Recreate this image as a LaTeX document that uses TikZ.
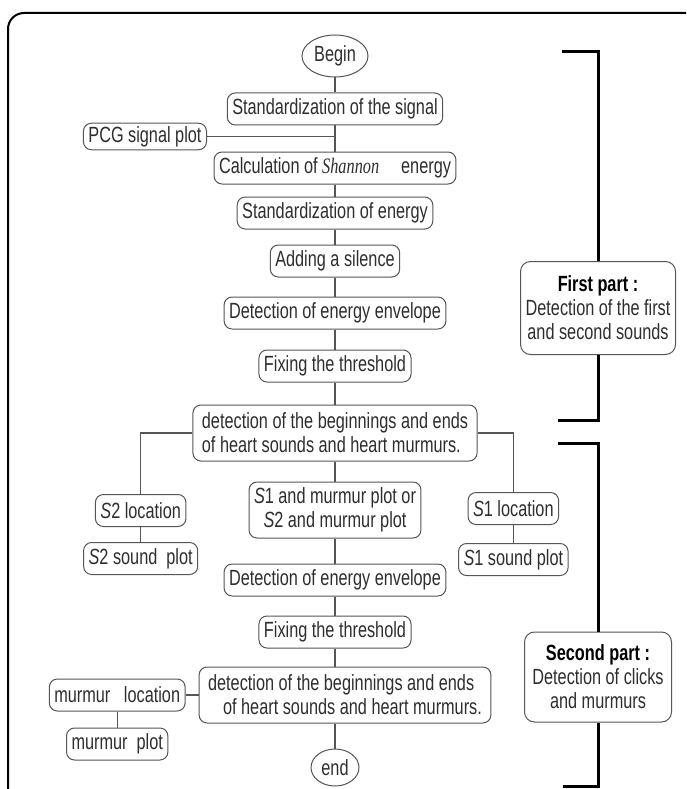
\documentclass[tikz,border=0pt]{standalone}
\usepackage{fontspec}
\setmainfont{Liberation Sans}[FakeStretch=0.74]
\newfontfamily\shannonfont{Liberation Serif}[FakeStretch=0.74]
\usepackage{tikz}
\usetikzlibrary{positioning, shapes.geometric}
\definecolor{boxgray}{HTML}{555555}
\definecolor{txtgray}{HTML}{2E2E2E}

\begin{document}
\begin{tikzpicture}[x=1pt, y=1pt,
    stepbox/.style={draw=boxgray, line width=1pt, rounded corners=8pt, fill=white, text=txtgray, font=\fontsize{22}{24}\selectfont, inner xsep=5pt, inner ysep=3pt, minimum height=32pt},
    twoline/.style={stepbox, align=left, minimum height=56pt, inner xsep=9pt},
    endpoint/.style={draw=boxgray, line width=1pt, ellipse, text=txtgray, font=\fontsize{22}{24}\selectfont, inner sep=1pt},
    partbox/.style={draw=boxgray, line width=1pt, rounded corners=10pt, fill=white, text=txtgray, align=center, font=\fontsize{22}{24}\selectfont},
    link/.style={draw=boxgray, line width=1.2pt},
    brace/.style={draw=black, line width=3pt}]

    \useasboundingbox (0,0) rectangle (686,-789);
    \draw[line width=2pt, rounded corners=16pt] (686,-13) -- (8,-13) -- (8,-789);

    % main column
    \node[endpoint, minimum width=66pt, minimum height=42pt] (begin) at (335,-56) {Begin};
    \node[stepbox, below=15pt of begin] (stdsig) {Standardization of the signal};
    \coordinate[below=11pt of stdsig] (j1);
    \node[stepbox, below=26pt of stdsig] (calc) {Calculation of {\shannonfont\itshape Shannon}\quad energy};
    \node[stepbox, below=12pt of calc] (stdeng) {Standardization of energy};
    \node[stepbox, below=15pt of stdeng] (silence) {Adding a silence};
    \node[stepbox, below=19pt of silence] (env1) {Detection of energy envelope};
    \node[stepbox, below=20pt of env1] (thr1) {Fixing the threshold};
    \node[twoline, below=22pt of thr1] (det1) {detection of the beginnings and ends\\of heart sounds and heart murmurs.};
    \node[twoline, align=center, inner xsep=5pt, below=20pt of det1] (s1m) {\textit{S}1 and murmur plot or\\\textit{S}2 and murmur plot};
    \node[stepbox, below=25pt of s1m] (env2) {Detection of energy envelope};
    \node[stepbox, below=19pt of env2] (thr2) {Fixing the threshold};
    \node[twoline, below=18pt of thr2, xshift=10pt] (det2) {detection of the beginnings and ends\\\hspace*{15pt}of heart sounds and heart murmurs.};
    \node[endpoint, minimum width=48pt, minimum height=37pt, below=25pt of det2, xshift=-10pt] (end) {end};

    % side boxes
    \node[stepbox, minimum height=26pt, left=128pt of j1] (pcg) {PCG signal plot};
    \node[stepbox, below left=61pt and 6pt of det1.west] (s2loc) {\textit{S}2 location};
    \node[stepbox, below=15pt of s2loc] (s2plot) {\textit{S}2 sound\ \ plot};
    \node[stepbox, below right=59pt and -10pt of det1.east] (s1loc) {\textit{S}1 location};
    \node[stepbox, below=18pt of s1loc] (s1plot) {\textit{S}1\ sound plot};
    \node[stepbox, left=13pt of det2] (mloc) {murmur\ \ \ location};
    \node[stepbox, below=16pt of mloc] (mplot) {murmur\ \ plot};

    \path[link]
        (begin) -- (stdsig)
        (stdsig) -- (calc)
        (pcg.east) -- (j1)
        (calc) -- (stdeng)
        (stdeng) -- (silence)
        (silence) -- (env1)
        (env1) -- (thr1)
        (thr1) -- (det1)
        (det1) -- (s1m)
        (s1m) -- (env2)
        (env2) -- (thr2)
        (thr2.south) -- (thr2.south |- det2.north)
        (det2.south -| end.north) -- (end)
        (det1.west) -| (s2loc.north)
        (det1.east) -| (s1loc.north)
        (s2loc) -- (s2plot)
        (s1loc) -- (s1plot)
        (mloc) -- (det2)
        (mloc.south) -- (mloc.south |- mplot.north)
        ;

    % parts
    \coordinate (b1top) at (562,-52);
    \coordinate (b1bot) at (558,-420);
    \coordinate (b2top) at (558,-443);
    \coordinate (b2bot) at (563,-786);
    \node[partbox, minimum width=155pt, minimum height=93pt] (first) at (598,-308) {\textcolor{black}{\textbf{First part :}}\\Detection of the first\\and second sounds};
    \node[partbox, minimum width=147pt, minimum height=90pt] (second) at (598,-677) {\textcolor{black}{\textbf{Second part :}}\\Detection of clicks\\and murmurs};

    \draw[brace] (first.north) -- (first.north |- b1top) -- (b1top);
    \draw[brace] (first.south) -- (first.south |- b1bot) -- (b1bot);
    \draw[brace] (second.north) -- (second.north |- b2top) -- (b2top);
    \draw[brace] (second.south) -- (second.south |- b2bot) -- (b2bot);
\end{tikzpicture}
\end{document}
